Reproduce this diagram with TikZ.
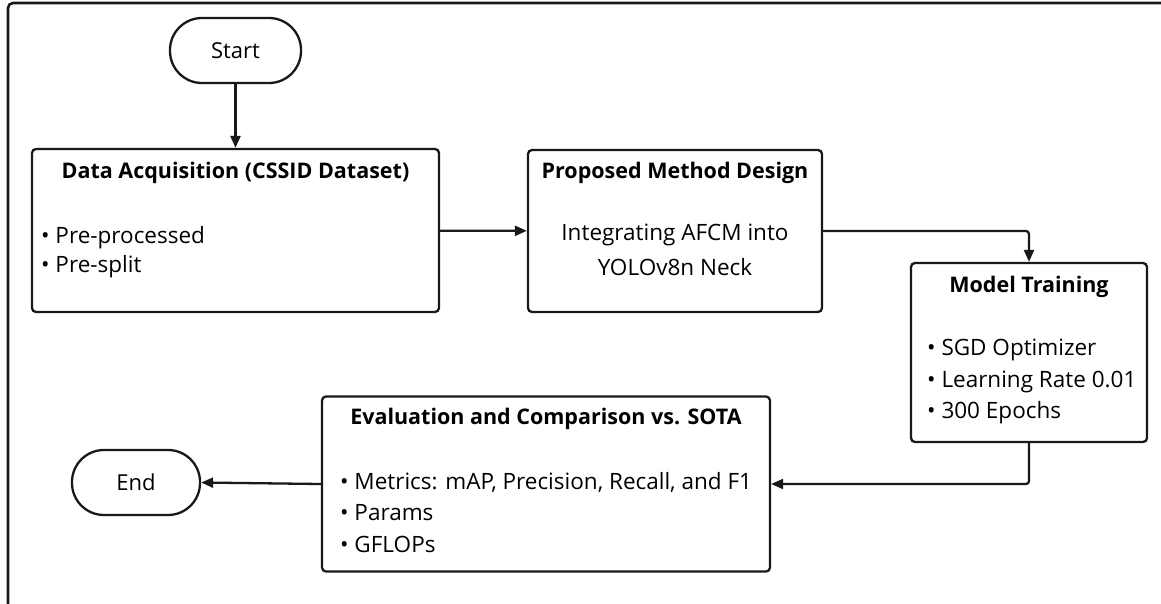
\documentclass[tikz,border=0pt]{standalone}
\usepackage{fontspec}
\setmainfont{Open Sans}
\usetikzlibrary{arrows.meta}
\begin{document}
\begin{tikzpicture}[x=1pt,y=-1pt,
  box/.style={draw=black!90, line width=2.3pt, rounded corners=4pt, inner sep=0pt},
  term/.style={draw=black!90, line width=2.3pt, rounded corners=32pt, inner sep=0pt, minimum width=131pt, minimum height=65pt, font=\fontsize{22}{24}\selectfont},
  ttl/.style={font=\fontsize{21.5}{24}\selectfont\bfseries, inner sep=0pt},
  txt/.style={font=\fontsize{22.5}{24}\selectfont, inner sep=0pt},
  bul/.style={font=\fontsize{22.5}{24}\selectfont, inner sep=0pt, anchor=west},
  arr/.style={line width=2.3pt, draw=black!90, rounded corners=3pt, -{Triangle[length=12pt,width=10pt]}}]
\useasboundingbox (0,0) rectangle (1161,603);
% outer frame
\draw[line width=2.6pt, rounded corners=5pt, draw=black!90] (1175,3) -- (8,3) -- (8,620);
% terminals
\node[term] (start) at (235.5,50.5) {Start};
\node[term, minimum width=128pt] (end) at (136,482.5) {End};
% boxes
\node[box, minimum width=407pt, minimum height=163pt] (data) at (235.5,230.5) {};
\node[box, minimum width=294pt, minimum height=162pt] (prop) at (675,231) {};
\node[box, minimum width=236pt, minimum height=179pt] (train) at (1029,352.5) {};
\node[box, minimum width=448pt, minimum height=175pt] (eval) at (546,484) {};
% texts
\node[ttl] (dataT) at (235.5,173) {Data Acquisition (CSSID Dataset)};
\node[bul] (dataB1) at (41,238) {• Pre-processed};
\node[bul] (dataB2) at (41,267) {• Pre-split};
\node[ttl] (propT) at (675,173) {Proposed Method Design};
\node[txt] (propL1) at (675,235) {Integrating AFCM into};
\node[txt] (propL2) at (675,267) {YOLOv8n Neck};
\node[ttl] (trainT) at (1029,287) {Model Training};
\node[bul] (trainB1) at (927,350) {• SGD Optimizer};
\node[bul] (trainB2) at (927,382) {• Learning Rate 0.01};
\node[bul] (trainB3) at (927,413) {• 300 Epochs};
\node[ttl] (evalT) at (546,419) {Evaluation and Comparison vs. SOTA};
\node[bul] (evalB1) at (340,482) {• Metrics: mAP, Precision, Recall, and F1};
\node[bul] (evalB2) at (340,513) {• Params};
\node[bul] (evalB3) at (340,544) {• GFLOPs};
% connectors
\draw[arr] (start) -- (data);
\draw[arr] (data) -- (prop);
\draw[arr] (prop.east) -| (train.north);
\draw[arr] (train.south) |- (eval.east);
\draw[arr] (eval.west) -- (end.east);
\end{tikzpicture}
\end{document}
